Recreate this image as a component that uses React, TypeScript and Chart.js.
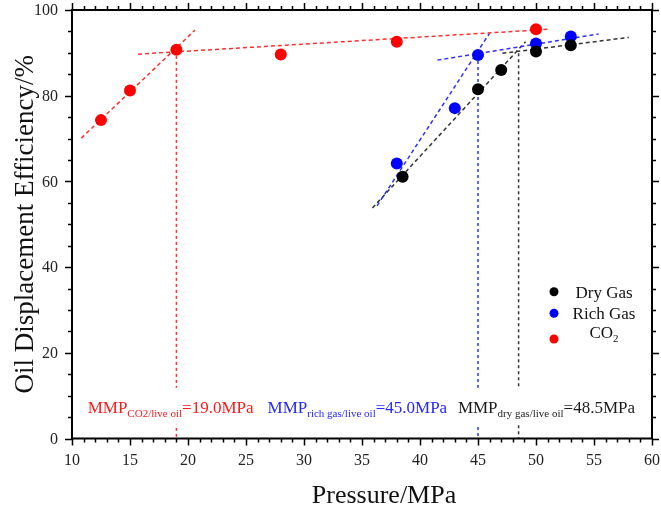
import React, { useEffect, useRef } from 'react';
import { Chart, registerables } from 'chart.js';

Chart.register(...registerables);

const FONT = '"Liberation Serif", "Times New Roman", Times, serif';

// Measured points
const dryPressure = [38.5, 45, 47, 50, 53];
const dryEff = [61.1, 81.5, 86.0, 90.3, 91.8];
const richPressure = [38, 43, 45, 50, 53];
const richEff = [64.2, 77.1, 89.5, 92.2, 93.8];
const co2Pressure = [12.5, 15, 19, 28, 38, 50];
const co2Eff = [74.3, 81.2, 90.7, 89.6, 92.6, 95.5];

// Trend lines (two end points each)
const co2LowX = [10.8, 20.6];
const co2LowY = [70.1, 95.3];
const co2HighX = [15.7, 51.1];
const co2HighY = [89.7, 95.5];
const richLowX = [36.3, 46.0];
const richLowY = [54.3, 94.6];
const richHighX = [41.5, 55.4];
const richHighY = [88.3, 94.4];
const dryLowX = [35.9, 49.1];
const dryLowY = [53.8, 92.6];
const dryHighX = [47.1, 58.0];
const dryHighY = [89.9, 93.6];

// MMP markers
const mmpValues = [19.0, 45.0, 48.5];
const mmpTops = [90.7, 89.5, 89.9];

// Axis ticks
const xTicks = [10, 15, 20, 25, 30, 35, 40, 45, 50, 55, 60];
const yTicks = [0, 20, 40, 60, 80, 100];
const xMinorStep = 1;
const yMinorStep = 5;

const RED = '#ff0000';
const BLUE = '#0000ff';
const BLACK = '#000000';
const RED_LINE = '#ff3030';
const BLUE_LINE = '#2f2fff';
const BLACK_LINE = '#333333';

const pts = (xs: number[], ys: number[]) => xs.map((x, i) => ({ x, y: ys[i] }));

type Part = { t: string; size: number; dy?: number };

function measureRich(ctx: CanvasRenderingContext2D, parts: Part[]) {
  let w = 0;
  for (const p of parts) {
    ctx.font = `${p.size}px ${FONT}`;
    w += ctx.measureText(p.t).width;
  }
  return w;
}

function drawRich(ctx: CanvasRenderingContext2D, parts: Part[], cx: number, y: number, color: string) {
  const total = measureRich(ctx, parts);
  let x = cx - total / 2;
  ctx.fillStyle = color;
  ctx.textAlign = 'left';
  ctx.textBaseline = 'alphabetic';
  for (const p of parts) {
    ctx.font = `${p.size}px ${FONT}`;
    ctx.fillText(p.t, x, y + (p.dy || 0));
    x += ctx.measureText(p.t).width;
  }
  return total;
}

const decorPlugin = {
  id: 'decor',
  afterDatasetsDraw(chart: any) {
    const ctx: CanvasRenderingContext2D = chart.ctx;
    const xs = chart.scales.x;
    const ys = chart.scales.y;
    const { left, right, top, bottom } = chart.chartArea;
    ctx.save();

    // MMP annotations with white boxes
    const labels: { parts: Part[]; cx: number; color: string }[] = [
      {
        parts: [
          { t: 'MMP', size: 17 },
          { t: 'CO2/live oil', size: 11, dy: 4 },
          { t: '=19.0MPa', size: 17 },
        ],
        cx: 18.5,
        color: '#ff1a1a',
      },
      {
        parts: [
          { t: 'MMP', size: 17 },
          { t: 'rich gas/live oil', size: 11, dy: 4 },
          { t: '=45.0MPa', size: 17 },
        ],
        cx: 34.6,
        color: '#2626ff',
      },
      {
        parts: [
          { t: 'MMP', size: 17 },
          { t: 'dry gas/live oil', size: 11, dy: 4 },
          { t: '=48.5MPa', size: 17 },
        ],
        cx: 50.9,
        color: '#1a1a1a',
      },
    ];
    const baseY = ys.getPixelForValue(6);
    for (const l of labels) {
      const w = measureRich(ctx, l.parts);
      const cx = xs.getPixelForValue(l.cx);
      ctx.fillStyle = '#ffffff';
      ctx.fillRect(cx - w / 2 - 3, baseY - 25, w + 6, 37);
    }
    for (const l of labels) {
      drawRich(ctx, l.parts, xs.getPixelForValue(l.cx), baseY, l.color);
    }

    // Legend
    const legend = [
      { parts: [{ t: 'Dry Gas', size: 17 }], color: BLACK, y: 291.7, ty: 297.5 },
      { parts: [{ t: 'Rich Gas', size: 17 }], color: BLUE, y: 313.3, ty: 319 },
      { parts: [{ t: 'CO', size: 17 }, { t: '2', size: 11, dy: 4 }], color: RED, y: 339, ty: 338 },
    ];
    for (const it of legend) {
      ctx.beginPath();
      ctx.arc(554, it.y, 4.5, 0, Math.PI * 2);
      ctx.fillStyle = it.color;
      ctx.fill();
      drawRich(ctx, it.parts as Part[], 604, it.ty, '#111111');
    }

    // Frame
    ctx.strokeStyle = '#000';
    ctx.lineWidth = 2;
    ctx.strokeRect(left, top, right - left, bottom - top);

    // Ticks
    ctx.lineWidth = 1.5;
    const majLen = 7;
    const minLen = 4;
    const xMin = xTicks[0];
    const xMax = xTicks[xTicks.length - 1];
    for (let v = xMin; v <= xMax + 1e-9; v += xMinorStep) {
      const isMajor = xTicks.includes(Math.round(v * 1000) / 1000);
      const len = isMajor ? majLen : minLen;
      const px = Math.round(xs.getPixelForValue(v)) + 0.5;
      ctx.beginPath();
      ctx.moveTo(px, bottom);
      ctx.lineTo(px, bottom + len);
      ctx.moveTo(px, top);
      ctx.lineTo(px, top - len);
      ctx.stroke();
    }
    const yMin = yTicks[0];
    const yMax = yTicks[yTicks.length - 1];
    for (let v = yMin; v <= yMax + 1e-9; v += yMinorStep) {
      const isMajor = yTicks.includes(v);
      const len = isMajor ? majLen : minLen;
      const py = Math.round(ys.getPixelForValue(v)) + 0.5;
      ctx.beginPath();
      ctx.moveTo(left, py);
      ctx.lineTo(left - len, py);
      ctx.moveTo(right, py);
      ctx.lineTo(right + len, py);
      ctx.stroke();
    }

    // Tick labels
    ctx.fillStyle = '#222';
    ctx.font = `16px ${FONT}`;
    ctx.textAlign = 'center';
    ctx.textBaseline = 'alphabetic';
    for (const t of xTicks) {
      ctx.fillText(String(t), xs.getPixelForValue(t), bottom + 26);
    }
    ctx.textAlign = 'right';
    ctx.textBaseline = 'middle';
    for (const t of yTicks) {
      ctx.fillText(String(t), left - 14, ys.getPixelForValue(t) + 1);
    }

    // Axis titles
    ctx.fillStyle = '#111';
    ctx.font = `26px ${FONT}`;
    ctx.textAlign = 'center';
    ctx.textBaseline = 'alphabetic';
    ctx.fillText('Pressure/MPa', 384, 503);

    ctx.save();
    ctx.translate(33, (top + bottom) / 2);
    ctx.rotate(-Math.PI / 2);
    ctx.font = `27px ${FONT}`;
    ctx.textAlign = 'center';
    ctx.textBaseline = 'alphabetic';
    ctx.fillText('Oil Displacement Efficiency/%', 0, 0);
    ctx.restore();

    ctx.restore();
  },
};

export default function App() {
  const ref = useRef<HTMLCanvasElement | null>(null);

  useEffect(() => {
    if (!ref.current) return;
    const line = (xs: number[], ys: number[], color: string, dash: number[]) => ({
      type: 'line' as const,
      data: pts(xs, ys),
      borderColor: color,
      borderWidth: 1.5,
      borderDash: dash,
      pointRadius: 0,
      fill: false,
      showLine: true,
      order: 2,
    });
    const vlines = mmpValues.map((v, i) =>
      line([v, v], [mmpTops[i], 0], [RED_LINE, BLUE_LINE, BLACK_LINE][i], [3, 3])
    );
    const chart = new Chart(ref.current, {
      type: 'scatter',
      data: {
        datasets: [
          line(co2LowX, co2LowY, RED_LINE, [4, 3]),
          line(co2HighX, co2HighY, RED_LINE, [4, 3]),
          line(richLowX, richLowY, BLUE_LINE, [4, 3]),
          line(richHighX, richHighY, BLUE_LINE, [4, 3]),
          line(dryLowX, dryLowY, BLACK_LINE, [4, 3]),
          line(dryHighX, dryHighY, BLACK_LINE, [4, 3]),
          ...vlines,
          {
            type: 'scatter' as const,
            label: 'Dry Gas',
            data: pts(dryPressure, dryEff),
            backgroundColor: BLACK,
            borderWidth: 0,
            pointRadius: 6,
            order: 1,
          },
          {
            type: 'scatter' as const,
            label: 'Rich Gas',
            data: pts(richPressure, richEff),
            backgroundColor: BLUE,
            borderWidth: 0,
            pointRadius: 6,
            order: 1,
          },
          {
            type: 'scatter' as const,
            label: 'CO2',
            data: pts(co2Pressure, co2Eff),
            backgroundColor: RED,
            borderWidth: 0,
            pointRadius: 6,
            order: 1,
          },
        ] as any,
      },
      options: {
        responsive: false,
        animation: false,
        layout: { padding: { left: 72, right: 9, top: 10, bottom: 67.5 } },
        plugins: {
          legend: { display: false },
          tooltip: { enabled: false },
        },
        scales: {
          x: { type: 'linear', min: 10, max: 60, display: false },
          y: { type: 'linear', min: 0, max: 100, display: false },
        },
      },
      plugins: [decorPlugin],
    });
    return () => chart.destroy();
  }, []);

  return (
    <div style={{ position: 'absolute', left: 0, top: 0, width: 661, height: 506, background: '#fff' }}>
      <canvas ref={ref} width={661} height={506} style={{ display: 'block', width: 661, height: 506 }} />
    </div>
  );
}
